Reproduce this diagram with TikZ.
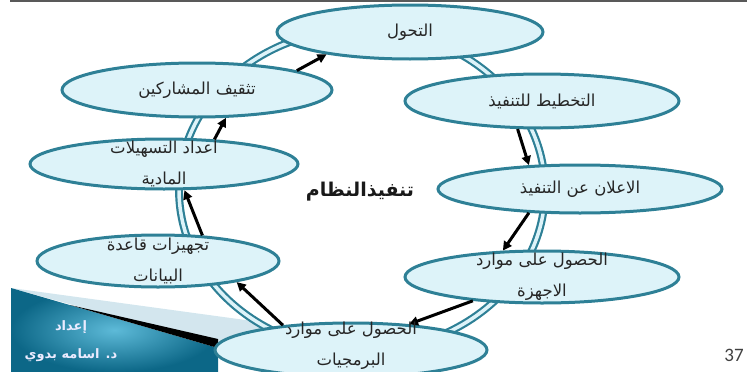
\documentclass[tikz,border=0pt]{standalone}
\usepackage{fontspec}
\newfontfamily\arabicfont[Script=Arabic]{DejaVu Sans}
\newfontfamily\numfont{Carlito}
\TeXXeTstate=1
\usetikzlibrary{shapes.geometric,arrows.meta}
\definecolor{ringc}{HTML}{2E8096}
\definecolor{ellfill}{HTML}{DDF3F9}
\definecolor{bandc}{HTML}{D3E6EE}
\definecolor{bluein}{HTML}{5DBAD8}
\definecolor{blueout}{HTML}{0C6787}
\begin{document}
\begin{tikzpicture}[x=1pt,y=-1pt,
  stage/.style={ellipse, draw=ringc, line width=3pt, fill=ellfill, inner sep=0pt},
  lab/.style={font=\arabicfont\fontsize{16.5}{31}\selectfont, align=center, text=black!85, inner sep=0pt},
  flow/.style={-{Triangle[length=9pt,width=9pt]}, line width=3pt, black}]
\useasboundingbox (0,0) rectangle (747,372);
% top rule
\draw[black!65, line width=2.5pt] (10,1) -- (747,1);
% bottom-left banner
\fill[bandc] (11,288) -- (260,322) -- (260,345) -- (218,345) -- cycle;
\shade[inner color=bluein, outer color=blueout] (11,288) -- (218,348) -- (218,372) -- (11,372) -- cycle;
\fill[black] (70,305) -- (218,339) -- (218,348) -- cycle;
\node[font=\arabicfont\bfseries\fontsize{13}{15}\selectfont, text=white!92!blue] (auth1) at (71,327) {\beginR إعداد\endR};
\node[font=\arabicfont\bfseries\fontsize{13}{15}\selectfont, text=white!92!blue] (auth2) at (71,355) {\beginR د. اسامه بدوي\endR};
% ring
\draw[ringc, line width=2.2pt, double=ellfill, double distance=3.5pt] (362,190) ellipse [x radius=183, y radius=161];
% stages
\node[stage, minimum width=266pt, minimum height=54pt] (t1) at (410,32) {};
\node[stage, minimum width=274pt, minimum height=54pt] (t2) at (542,101) {};
\node[stage, minimum width=284pt, minimum height=48pt] (t3) at (580,189) {};
\node[stage, minimum width=274pt, minimum height=52pt] (t4) at (542,277) {};
\node[stage, minimum width=272pt, minimum height=54pt] (t5) at (351,350) {};
\node[stage, minimum width=242pt, minimum height=52pt] (t6) at (158,261) {};
\node[stage, minimum width=268pt, minimum height=50pt] (t7) at (164,164) {};
\node[stage, minimum width=270pt, minimum height=54pt] (t8) at (197,90) {};
% arrows
\draw[flow] (t8.11) -- (t1.195);
\draw[flow] (t7.26) -- (t8.316);
\draw[flow] (t6.30) -- (t7.308);
\draw[flow] (t5.160) -- (t6.345);
\draw[flow] (t4.199) -- (t5.24);
\draw[flow] (t3.205) -- (t4.146);
\draw[flow] (t2.229) -- (t3.155);
% labels
\node[lab] (l1) at (t1) {\beginR التحول\endR};
\node[lab] (l2) at (t2) {\beginR التخطيط للتنفيذ\endR};
\node[lab] (l3) at (t3) {\beginR الاعلان عن التنفيذ\endR};
\node[lab] (l4) at (t4) {\beginR الحصول على موارد\endR\\\beginR الاجهزة\endR};
\node[lab] (l5) at ([yshift=4pt]t5.center) {\beginR الحصول على موارد\endR\\\beginR البرمجيات\endR};
\node[lab] (l6) at (t6) {\beginR تجهيزات قاعدة\endR\\\beginR البيانات\endR};
\node[lab] (l7) at (t7) {\beginR اعداد التسهيلات\endR\\\beginR المادية\endR};
\node[lab] (l8) at (t8) {\beginR تثقيف المشاركين\endR};
\node[font=\arabicfont\bfseries\fontsize{19}{22}\selectfont, text=black!90] (center) at (360,192) {\beginR تنفيذالنظام\endR};
\node[font=\numfont\fontsize{19}{20}\selectfont, text=black!75] (page) at (734,355) {37};
\end{tikzpicture}
\end{document}
